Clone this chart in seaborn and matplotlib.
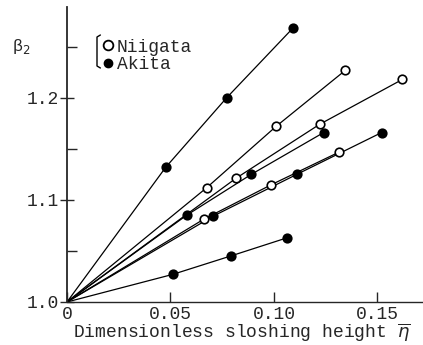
import matplotlib
matplotlib.use("Agg")
import matplotlib.pyplot as plt
from matplotlib.lines import Line2D
import seaborn as sns
import pandas as pd

# data: each series starts at origin (0, 1.0)
series_names = ["A1", "N1", "N2", "A2", "N3", "A3", "A4"]
series_kind = ["Akita", "Niigata", "Niigata", "Akita", "Niigata", "Akita", "Akita"]
x_A1 = [0.0477, 0.0771, 0.109]
y_A1 = [1.132, 1.200, 1.268]
x_N1 = [0.0675, 0.101, 0.1345]
y_N1 = [1.112, 1.172, 1.227]
x_N2 = [0.0815, 0.122, 0.162]
y_N2 = [1.121, 1.174, 1.218]
x_A2 = [0.0578, 0.089, 0.124]
y_A2 = [1.085, 1.125, 1.166]
x_N3 = [0.066, 0.0988, 0.1316]
y_N3 = [1.081, 1.115, 1.147]
x_A3 = [0.0705, 0.111, 0.152]
y_A3 = [1.084, 1.125, 1.166]
x_A4 = [0.051, 0.079, 0.1065]
y_A4 = [1.027, 1.045, 1.063]
origin_x, origin_y = 0.0, 1.0

xs = [x_A1, x_N1, x_N2, x_A2, x_N3, x_A3, x_A4]
ys = [y_A1, y_N1, y_N2, y_A2, y_N3, y_A3, y_A4]

sns.set_style("ticks")
plt.rcParams['font.family'] = ['Liberation Mono', 'DejaVu Sans']
plt.rcParams['mathtext.fontset'] = 'dejavusans'

fig = plt.figure(figsize=(4.23, 3.45), dpi=100)
ax = fig.add_axes([67/423, 43/345, (423-67)/423, (302-7)/345])

for name, kind, xv, yv in zip(series_names, series_kind, xs, ys):
    line_df = pd.DataFrame({"x": [origin_x] + xv, "y": [origin_y] + yv})
    sns.lineplot(data=line_df, x="x", y="y", ax=ax, color="black", lw=0.9,
                 sort=False, estimator=None, zorder=2)
for name, kind, xv, yv in zip(series_names, series_kind, xs, ys):
    pts = pd.DataFrame({"x": xv, "y": yv})
    face = "white" if kind == "Niigata" else "black"
    sns.scatterplot(data=pts, x="x", y="y", ax=ax, s=38, facecolor=face,
                    edgecolor="black", linewidth=1.2, zorder=3)

ax.set_xlim(0, 0.172)
ax.set_ylim(1.0, 1.289)
ax.set_xticks([0, 0.05, 0.10, 0.15])
ax.set_xticklabels(["0", "0.05", "0.10", "0.15"])
ax.set_yticks([1.0, 1.1, 1.2])
ax.set_yticklabels(["1.0", "1.1", "1.2"])
ax.set_yticks([1.05, 1.15, 1.25], minor=True)
ax.tick_params(axis="x", direction="in", length=7, width=1, labelsize=13, pad=3)
ax.tick_params(axis="y", which="major", direction="inout", length=10, width=1, labelsize=13, pad=1)
ax.tick_params(axis="y", which="minor", direction="in", length=7, width=1)
for s in ["top", "right"]:
    ax.spines[s].set_visible(False)
ax.spines["left"].set_linewidth(1.3)
ax.spines["bottom"].set_linewidth(1.0)
ax.set_xlabel("")
ax.set_ylabel("")
fig.text(73/423, 1 - 338/345, r"Dimensionless sloshing height $\overline{\eta}$",
         fontsize=13, ha="left", va="baseline")

# legend
handles = [Line2D([], [], ls="none", marker="o", ms=7, mfc="white", mec="black", mew=1.3),
           Line2D([], [], ls="none", marker="o", ms=6, mfc="black", mec="black")]
leg = fig.legend(handles, ["Niigata", "Akita"], loc="upper left",
                 bbox_to_anchor=(86/423, 1 - 26/345), frameon=False, fontsize=13,
                 handletextpad=0.0, handlelength=1.0, labelspacing=0.02, borderpad=0.2)
# bracket
bx = 97/423
fig.add_artist(Line2D([bx + 0.008, bx, bx, bx + 0.008],
                      [1 - 35/345, 1 - 37/345, 1 - 66/345, 1 - 68/345],
                      transform=fig.transFigure, color="black", lw=1.0))

fig.text(12/423, 1 - 46/345, r"β$_2$", fontsize=12, va="center", ha="left")

fig.savefig("out.png", dpi=100)
